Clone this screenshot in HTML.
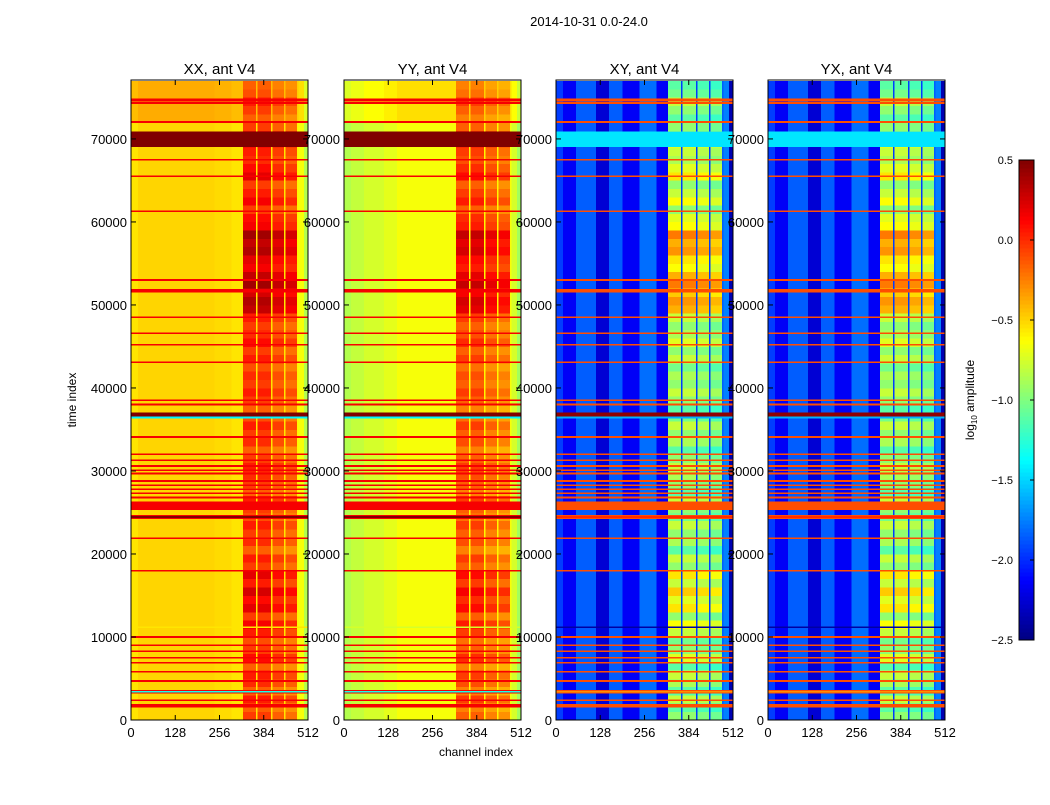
<!DOCTYPE html>
<html><head><meta charset="utf-8"><style>
body{margin:0;background:#fff;}
svg text{font-family:"Liberation Sans",sans-serif;}
</style></head><body>
<svg id="fig" width="1050" height="800" viewBox="0 0 1050 800" xmlns="http://www.w3.org/2000/svg">
<rect width="1050" height="800" fill="#fff"/>
<text x="589" y="26" font-size="13" text-anchor="middle">2014-10-31 0.0-24.0</text>
<text x="0" y="0" font-size="12" text-anchor="middle" transform="translate(76,400) rotate(-90)">time index</text>
<text x="476" y="756" font-size="12" text-anchor="middle">channel index</text>
<g id="panels"></g>
<g id="cbar"></g>
</svg>
<script>
// ---- data ----
const panelTitles = ["XX, ant V4","YY, ant V4","XY, ant V4","YX, ant V4"];
const xTicks = [0,128,256,384,512];
const yTicks = [0,10000,20000,30000,40000,50000,60000,70000];
const cbarTicks = [0.5,0.0,-0.5,-1.0,-1.5,-2.0,-2.5];
// column segments: [chStart, chEnd, isStripe]
const colSeg = [[0,20,0],[20,58,0],[58,115,0],[115,154,0],[154,193,0],[193,241,0],[241,290,0],[290,324,0],[324,362,1],[362,366,0],[366,405,1],[405,409,0],[409,443,1],[443,447,0],[447,480,1],[480,484,0],[484,500,0],[500,512,0]];
const baseXX = [-0.55,-0.5,-0.5,-0.5,-0.5,-0.5,-0.52,-0.55,-0.05,-0.55,-0.05,-0.55,-0.15,-0.55,-0.2,-0.6,-0.65,-0.85];
const baseYY = [-0.85,-0.8,-0.75,-0.7,-0.65,-0.65,-0.65,-0.65,-0.15,-0.6,-0.15,-0.6,-0.25,-0.6,-0.3,-0.65,-0.75,-0.9];
const baseXY = [-1.95,-2.15,-1.85,-2.25,-1.85,-2.15,-1.8,-2.15,-0.95,-1.95,-0.95,-1.95,-1.0,-1.95,-1.05,-1.85,-1.75,-2.35];
const baseYX = [-1.95,-2.15,-1.85,-2.25,-1.85,-2.15,-1.8,-2.15,-0.95,-1.95,-0.95,-1.95,-1.0,-1.95,-1.05,-1.85,-1.75,-2.35];
// stripe-region modulation per 1000 time units (0..77000)
const stripeMod = [0.0,-0.1,0.1,-0.1,0.05,0.1,-0.1,0.15,0.0,-0.05,0.1,0.2,0.0,0.25,0.15,0.3,0.1,0.25,0.0,0.1,
 -0.1,0.05,0.0,0.1,-0.05,0.0,0.1,-0.1,0.0,0.05,0.1,0.0,-0.1,0.05,0.0,0.1,-0.05,-0.1,0.0,0.1,
 0.0,0.05,-0.05,0.1,0.0,0.15,0.05,0.0,0.1,0.35,0.4,0.3,0.45,0.35,0.2,0.25,0.4,0.35,0.45,0.2,
 0.15,0.0,0.2,0.1,0.0,0.25,0.15,0.05,0.1,0.2,0.1,0.0,-0.1,0.0,0.1,-0.05,-0.1];
// flagged time lines: [tStart, tEnd]
const flagT = [[74200,74500],[74600,74900],[71900,72150],[67400,67600],[65400,65600],[61200,61400],[52900,53100],[51500,51900],[48400,48600],[46500,46700],[45100,45300],[43000,43200],[38400,38600],[37900,38100],[34000,34200],[31900,32100],[31200,31400],[30500,30700],[30000,30200],[29600,29800],[28700,28900],[28200,28400],[27700,27900],[27200,27400],[26700,26900],[25300,26300],[24500,24700],[24200,24350],[21800,22000],[17900,18100],[9900,10100],[8900,9100],[8200,8400],[7400,7600],[6800,7000],[5700,5900],[4600,4800],[3200,3600],[2300,2500],[1500,1950]];
const flagPar = 0.15;   // flag value for XX/YY
const flagCross = -0.1; // flag value for XY/YX
// special bands: [tStart,tEnd, valXX, valYY, valXY, valYX]
const bands = [[69000,70900,0.5,0.5,-1.45,-1.45],[36550,37050,0.5,0.5,0.45,0.45],[36350,36550,-1.4,-1.4,-1.6,-1.6],[24350,24600,0.5,0.5,0.0,0.0],[3300,3500,-1.3,-1.3,-0.3,-0.3],[11100,11250,-0.55,-0.75,-2.4,-2.4]];
const panelBase = [baseXX,baseYY,baseXY,baseYX];
const panelLeft = [131,344,556,768];

// ---- scales ----
const PW=177, TOP=80, BOT=720, TMAX=77100;
function xs(p,ch){return panelLeft[p]+ch/512*PW;}
function ys(t){return BOT-(t/TMAX)*(BOT-TOP);}
const VMIN=-2.5,VMAX=0.5;
function jet(v){
 let x=(v-VMIN)/(VMAX-VMIN); x=Math.max(0,Math.min(1,x));
 const c=(a)=>Math.round(255*Math.max(0,Math.min(1,a)));
 const r=c(Math.min(4*x-1.5,-4*x+4.5)), g=c(Math.min(4*x-0.5,-4*x+3.5)), b=c(Math.min(4*x+0.5,-4*x+2.5));
 return `rgb(${r},${g},${b})`;
}
const NS="http://www.w3.org/2000/svg";
function mk(tag,attrs,parent){const e=document.createElementNS(NS,tag);for(const k in attrs)e.setAttribute(k,attrs[k]);parent.appendChild(e);return e;}

const panels=document.getElementById('panels');
for(let p=0;p<4;p++){
 const g=mk('g',{},panels);
 
 
 const base=panelBase[p], cross=p>=2;
 const hm=mk('g',{'shape-rendering':'crispEdges'},g);
 
 
 for(let r=0;r<stripeMod.length;r++){
  const t0=r*1000,t1=Math.min((r+1)*1000,TMAX);
  const y0=ys(t1),y1=ys(t0);
  for(let c=0;c<colSeg.length;c++){
   const [a,b,s]=colSeg[c];
   let v=base[c]+(s?stripeMod[r]*(cross?1.6:1):0);
   if(!s && t0>=72000 && !cross) v+=0.12;
   const x0=xs(p,a),x1=xs(p,b);
   const rc=mk('rect',{x:x0.toFixed(2),y:y0.toFixed(2),width:(x1-x0+0.3).toFixed(2),height:(y1-y0+0.3).toFixed(2),fill:jet(v)},hm);
   
   
  }
 }
 for(const [t0,t1] of flagT){
  const y0=ys(t1),y1=ys(t0);
  const f=mk('rect',{x:panelLeft[p],y:y0.toFixed(2),width:PW,height:Math.max(1,y1-y0).toFixed(2),fill:jet(cross?flagCross:flagPar)},hm);
  
  
 }
 for(const bd of bands){
  const y0=ys(bd[1]),y1=ys(bd[0]);
  const f=mk('rect',{x:panelLeft[p],y:y0.toFixed(2),width:PW,height:Math.max(1,y1-y0).toFixed(2),fill:jet(bd[2+p])},hm);
  
  
 }
 const fr=mk('rect',{x:panelLeft[p],y:TOP,width:PW,height:BOT-TOP,fill:'none',stroke:'#000','stroke-width':1},g);
 
 
 const tt=mk('text',{x:panelLeft[p]+PW/2,y:74,'font-size':15,'text-anchor':'middle'},g);
 tt.textContent=panelTitles[p];
 
 
 for(const xv of xTicks){
  const x=xs(p,xv);
  mk('line',{x1:x,x2:x,y1:BOT,y2:BOT-5,stroke:'#000'},g);
  mk('line',{x1:x,x2:x,y1:TOP,y2:TOP+5,stroke:'#000'},g);
  const l=mk('text',{x:x,y:BOT+17,'font-size':13,'text-anchor':'middle'},g);
  l.textContent=xv;
  
  
 }
 for(const yv of yTicks){
  const y=ys(yv);
  mk('line',{x1:panelLeft[p],x2:panelLeft[p]+5,y1:y,y2:y,stroke:'#000'},g);
  mk('line',{x1:panelLeft[p]+PW,x2:panelLeft[p]+PW-5,y1:y,y2:y,stroke:'#000'},g);
  const l=mk('text',{x:panelLeft[p]-4,y:y+5,'font-size':13,'text-anchor':'end'},g);
  l.textContent=yv;
  
  
 }
}
// colorbar
const cb=document.getElementById('cbar');


const CX=1019,CW=15,CT=160,CB=640;
const N=120;
for(let i=0;i<N;i++){
 const v=VMIN+(i+0.5)/N*(VMAX-VMIN);
 const y1=CB-(i/N)*(CB-CT), y0=CB-((i+1)/N)*(CB-CT);
 mk('rect',{x:CX,y:y0.toFixed(2),width:CW,height:(y1-y0+0.5).toFixed(2),fill:jet(v),'shape-rendering':'crispEdges'},cb);
}
mk('rect',{x:CX,y:CT,width:CW,height:CB-CT,fill:'none',stroke:'#000'},cb);
for(const v of cbarTicks){
 const y=CB-(v-VMIN)/(VMAX-VMIN)*(CB-CT);
 mk('line',{x1:CX+CW,x2:CX+CW-4,y1:y,y2:y,stroke:'#000'},cb);
 const l=mk('text',{x:CX-6,y:y+4,'font-size':11,'text-anchor':'end'},cb);
 l.textContent=v.toFixed(1).replace('-','\u2212');
 
 
}
const cl=mk('text',{'font-size':12,'text-anchor':'middle',transform:'translate(974,400) rotate(-90)'},cb);
cl.innerHTML='log<tspan font-size="8" dy="3">10</tspan><tspan dy="-3"> amplitude</tspan>';


</script>
</body></html>
